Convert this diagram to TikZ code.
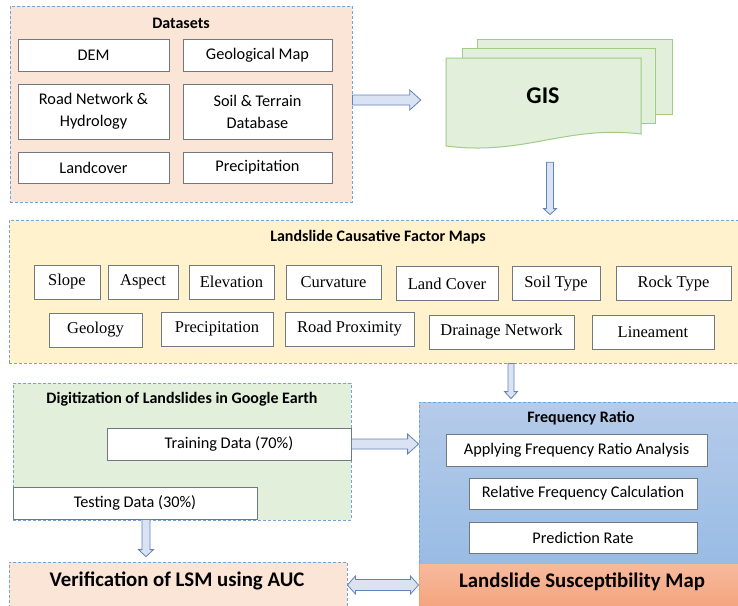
\documentclass[tikz,border=0pt]{standalone}
\usepackage{fontspec}
\setmainfont{Carlito}
\newfontfamily\tnr{Liberation Serif}
\usetikzlibrary{calc}
\definecolor{peach}{HTML}{FBE5D6}
\definecolor{paleyellow}{HTML}{FFF2CC}
\definecolor{palegreen}{HTML}{E2EFDA}
\definecolor{dashblue}{HTML}{70A5DA}
\definecolor{boxgray}{HTML}{707880}
\definecolor{gisborder}{HTML}{A0CC84}
\definecolor{arrowfill}{HTML}{DAE3F3}
\definecolor{arrowborder}{HTML}{6283B8}
\definecolor{frtop}{HTML}{B5CBEA}
\definecolor{frbot}{HTML}{99BCE4}
\definecolor{lsmtop}{HTML}{F7BA9D}
\definecolor{lsmbot}{HTML}{F4A47D}
\definecolor{lsmborder}{HTML}{F4A071}

\newcommand{\hblockarrow}[5]{%
  \path[barrow] let \p1=(#1), \p2=(#2), \n1={sign(\x2-\x1)} in
  (\x1,{\y1+#3pt}) -- ({\x2-\n1*#5pt},{\y1+#3pt}) -- ({\x2-\n1*#5pt},{\y1+#4pt})
  -- (\x2,\y1) -- ({\x2-\n1*#5pt},{\y1-#4pt}) -- ({\x2-\n1*#5pt},{\y1-#3pt})
  -- (\x1,{\y1-#3pt}) -- cycle;}
\newcommand{\vblockarrow}[5]{%
  \path[barrow] let \p1=(#1), \p2=(#2), \n1={sign(\y2-\y1)} in
  ({\x1+#3pt},\y1) -- ({\x1+#3pt},{\y2-\n1*#5pt}) -- ({\x1+#4pt},{\y2-\n1*#5pt})
  -- (\x1,\y2) -- ({\x1-#4pt},{\y2-\n1*#5pt}) -- ({\x1-#3pt},{\y2-\n1*#5pt})
  -- ({\x1-#3pt},\y1) -- cycle;}
\newcommand{\dblockarrow}[5]{%
  \path[barrow] let \p1=(#1), \p2=(#2) in
  (\x1,\y1) -- ({\x1+#5pt},{\y1+#4pt}) -- ({\x1+#5pt},{\y1+#3pt})
  -- ({\x2-#5pt},{\y1+#3pt}) -- ({\x2-#5pt},{\y1+#4pt}) -- (\x2,\y1)
  -- ({\x2-#5pt},{\y1-#4pt}) -- ({\x2-#5pt},{\y1-#3pt})
  -- ({\x1+#5pt},{\y1-#3pt}) -- ({\x1+#5pt},{\y1-#4pt}) -- cycle;}

\begin{document}
\begin{tikzpicture}[x=1pt,y=-1pt,
  container/.style={draw=dashblue, dash pattern=on 3pt off 2pt, line width=0.8pt, inner sep=0pt, rectangle},
  wbox/.style={draw=boxgray, fill=white, line width=0.9pt, align=center, inner sep=0pt,
    font=\fontsize{16.3}{22}\selectfont},
  fbox/.style={wbox, font=\tnr\fontsize{16.5}{19}\selectfont},
  ttl/.style={font=\bfseries\fontsize{16}{18}\selectfont, inner sep=0pt},
  bigttl/.style={font=\bfseries\fontsize{20.8}{24}\selectfont, inner sep=0pt},
  barrow/.style={draw=arrowborder, fill=arrowfill, line width=0.8pt, line join=miter},
  gisdocstyle/.style={draw=gisborder, fill=palegreen, line width=1pt, line join=miter}
]
\useasboundingbox (0,0) rectangle (738,605);
\clip (0,0) rectangle (738,605);

% ---------------- Datasets ----------------
\node[container, fill=peach, minimum width=342, minimum height=196] (ds) at (181,104) {};
\node[ttl] (dstitle) at (181,23) {Datasets};
\node[wbox, minimum width=151, minimum height=32] (dem) at (93.5,55) {DEM};
\node[wbox, minimum width=149, minimum height=32] (geo) at (257.5,55) {Geological Map};
\node[wbox, minimum width=151, minimum height=55] (road) at (93.5,111.5) {Road Network \&\\Hydrology};
\node[wbox, minimum width=149, minimum height=55] (soil) at (257.5,111.5) {Soil \& Terrain\\Database};
\node[wbox, minimum width=151, minimum height=31] (lc) at (93.5,167.5) {Landcover};
\node[wbox, minimum width=149, minimum height=31] (prec) at (257.5,167.5) {Precipitation};

% ---------------- GIS (multi-document) ----------------
\draw[gisdocstyle] (477,39) rectangle (672,114);
\draw[gisdocstyle] (462,48) rectangle (655,123);
\draw[gisdocstyle] (446,58) -- (641,58) -- (641,134)
  .. controls (565,125) and (525,156) .. (446,146) -- cycle;
\node[minimum width=195, minimum height=89, inner sep=0pt] (gisdoc) at (543.5,102.5) {};
\node[font=\bfseries\fontsize{24}{28}\selectfont, inner sep=0pt] (gis) at (543,96) {GIS};

% ---------------- Causative factor maps ----------------
\node[container, fill=paleyellow, minimum width=731, minimum height=143] (fm) at (374.5,291.5) {};
\node[ttl] (fmtitle) at (378,237) {Landslide Causative Factor Maps};
\node[fbox, minimum width=66, minimum height=34] (slope) at (67,282) {Slope};
\node[fbox, minimum width=70, minimum height=34] (aspect) at (143,282) {Aspect};
\node[fbox, minimum width=85, minimum height=34] (elev) at (231.5,282) {Elevation};
\node[fbox, minimum width=95, minimum height=34] (curv) at (333.5,282) {Curvature};
\node[fbox, minimum width=102, minimum height=34] (lcov) at (447,283.5) {Land Cover};
\node[fbox, minimum width=88, minimum height=34] (soilt) at (556,283.5) {Soil Type};
\node[fbox, minimum width=115, minimum height=34] (rock) at (673.5,283.5) {Rock Type};
\node[fbox, minimum width=93, minimum height=34] (geol) at (95.5,330) {Geology};
\node[fbox, minimum width=112, minimum height=34] (precf) at (217,329) {Precipitation};
\node[fbox, minimum width=129, minimum height=34] (roadp) at (349.5,329) {Road Proximity};
\node[fbox, minimum width=145, minimum height=34] (drain) at (501.5,332) {Drainage Network};
\node[fbox, minimum width=122, minimum height=34] (line) at (653,332) {Lineament};

% ---------------- Digitization ----------------
\node[container, fill=palegreen, minimum width=338, minimum height=137] (dg) at (182,451.5) {};
\node[ttl] (dgtitle) at (182,399) {Digitization of Landslides in Google Earth};
\node[wbox, minimum width=244, minimum height=32] (tr) at (229,444) {Training Data (70\%)};
\node[wbox, minimum width=244, minimum height=32] (te) at (135,503) {Testing Data (30\%)};

% ---------------- Frequency Ratio ----------------
\node[container, top color=frtop, bottom color=frbot, minimum width=323, minimum height=161] (fr) at (580.5,482.5) {};
\node[ttl] (frtitle) at (581,418) {Frequency Ratio};
\node[wbox, minimum width=261, minimum height=32] (apply) at (576.5,450) {Applying Frequency Ratio Analysis};
\node[wbox, minimum width=228, minimum height=31] (rel) at (583,493.5) {Relative Frequency Calculation};
\node[wbox, minimum width=228, minimum height=31] (pred) at (583,537.5) {Prediction Rate};

% ---------------- Bottom boxes ----------------
\node[container, fill=peach, minimum width=338, minimum height=46] (vf) at (178,585) {};
\node[bigttl] (vftext) at (177,581) {Verification of LSM using AUC};
\node[draw=lsmborder, line width=1pt, top color=lsmtop, bottom color=lsmbot, inner sep=0pt,
      minimum width=323, minimum height=45] (lsm) at (580.5,585.5) {};
\node[bigttl] (lsmtext) at (582,582) {Landslide Susceptibility Map};

% ---------------- Block arrows ----------------
\hblockarrow{$(ds.east)+(0,-4)$}{$(gisdoc.west)+(-25,0)$}{5}{10}{11}
\vblockarrow{$(gisdoc.south)+(6.5,15)$}{$(fm.north)+(0,-5)$}{3.5}{6.5}{6}
\vblockarrow{$(fm.south)+(136.5,0)$}{$(fr.north)+(0,-3)$}{3}{6.5}{7}
\hblockarrow{tr.east}{fr.west}{5}{10}{11}
\vblockarrow{$(te.south)+(11,0)$}{$(vf.north)+(0,-5)$}{4}{7.5}{7}
\dblockarrow{vf.east}{lsm.west}{5.5}{9}{8}
\end{tikzpicture}
\end{document}
